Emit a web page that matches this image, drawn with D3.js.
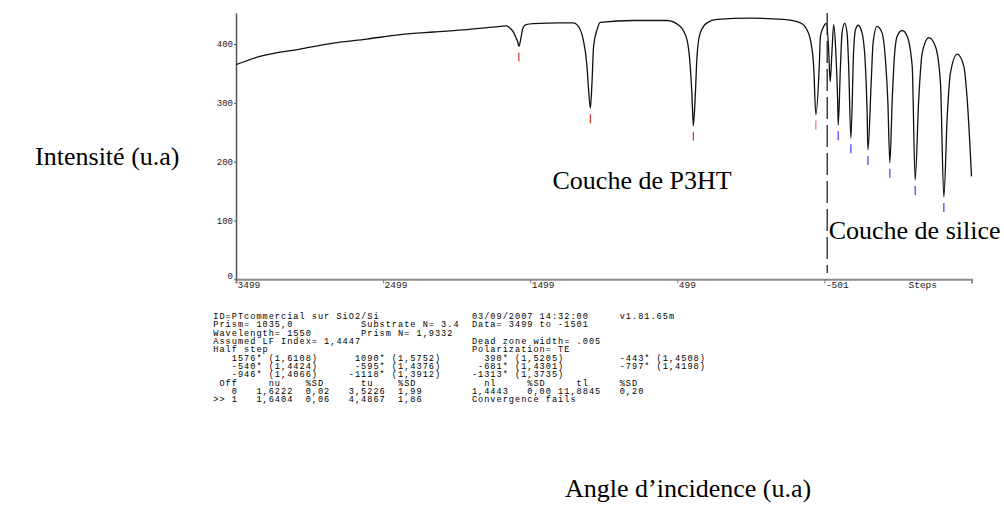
<!DOCTYPE html>
<html><head><meta charset="utf-8">
<script src="https://cdn.jsdelivr.net/npm/d3@7"></script>
<style>body{margin:0;background:#fff}svg{display:block}</style>
</head><body>
<svg id="c" width="1004" height="524"></svg>
<script>
// ---- data ----
const steps = [3499,3336,3064,2837,2610,2383,2157,1930,1703,1662,1635,1615,1594,1584,1576,1560,1549,1526,1479,1295,1206,1181,1138,1113,1102,1090,1079,1068,1045,1023,796,569,479,433,411,399,390,377,365,343,297,229,2,-224,-338,-383,-406,-428,-443,-466,-474,-496,-515,-530,-540,-553,-564,-578,-591,-595,-610,-621,-639,-655,-666,-681,-700,-712,-730,-757,-780,-791,-797,-819,-832,-859,-893,-916,-932,-946,-962,-977,-995,-1030,-1064,-1098,-1118,-1142,-1166,-1211,-1256,-1290,-1313,-1336,-1358,-1404,-1449,-1472,-1501];
const intensity = [365,379,391.5,401.7,408.5,416,420.5,424.5,430,431,427,421,410,404,396,413,427,433,434.6,436,436,433,407,362,322,291,334,396,424,437,440,440,430,407,362,311,261,311,379,419,436,442,444,442,436,424,407,362,280,362,413,430,435,390,336,390,433,390,305,262,362,419,435,419,362,240,390,424,432,419,362,288,220,334,402,430,419,373,305,198,305,379,413,423,413,362,169,305,385,411,396,334,140,277,351,383,362,305,175];
const modeSteps = [1576,1090,390,-443,-595,-681,-797,-946,-1118,-1313];
const modeDepth = [396,291,261,280,262,240,220,198,169,140];
const modeLayer = ["P3HT","P3HT","P3HT","P3HT","silice","silice","silice","silice","silice","silice"];
const yTicks = [0,100,200,300,400];
const xTicks = [3499,2499,1499,499,-501];
const xTickLabels = ["3499","2499","1499","499","-501"];
const dividerStep = -520;
const infoLines = [
"ID=PTcommercial sur SiO2/Si               03/09/2007 14:32:00     v1.81.65m",
"Prism= 1035,0           Substrate N= 3.4  Data= 3499 to -1501",
"Wavelength= 1550        Prism N= 1,9332",
"Assumed LF Index= 1,4447                  Dead zone width= .005",
"Half step                                 Polarization= TE",
"   1576* (1,6108)      1090* (1,5752)       390* (1,5205)         -443* (1,4508)",
"   -540* (1,4424)      -595* (1,4376)      -681* (1,4301)         -797* (1,4198)",
"   -946* (1,4066)     -1118* (1,3912)     -1313* (1,3735)",
" Off     nu    %SD      tu    %SD           nl     %SD     tl     %SD",
"   0   1,6222  0,02   3,5226  1,99        1,4443   0,00 11,8845   0,20",
">> 1   1,6404  0,06   4,4867  1,86        Convergence fails"
];

// ---- drawing ----
const svg = d3.select("#c");
const x = d3.scaleLinear().domain([3499,-1501]).range([236,971.5]);
const y = d3.scaleLinear().domain([0,453.3]).range([279.3,12.7]);
const mono = "'Liberation Mono', 'DejaVu Sans Mono', monospace";
const serif = "'Liberation Serif', 'DejaVu Serif', serif";

// x axis
const xa = svg.append("g").attr("transform",`translate(0,${y(0)})`)
  .call(d3.axisBottom(x).tickValues(xTicks).tickFormat((d,i)=>xTickLabels[i]).tickSize(4).tickSizeOuter(4));
xa.select(".domain").attr("stroke","#8a8a8a").attr("stroke-width",2);
xa.selectAll(".tick line").attr("stroke","#777").attr("stroke-width",1);
xa.selectAll(".tick text").attr("text-anchor","start").attr("x",1).attr("y",8.5).attr("dy",0)
  .attr("font-family",mono).attr("font-size",9.5).attr("fill","#222");
svg.append("text").attr("x",x(-1501)-63).attr("y",y(0)+8.5).text("Steps")
  .attr("font-family",mono).attr("font-size",9.5).attr("fill","#222");

// y axis
const ya = svg.append("g").attr("transform",`translate(${x(3499)},0)`)
  .call(d3.axisLeft(y).tickValues(yTicks).tickSize(2).tickSizeOuter(0).tickPadding(1));
ya.select(".domain").attr("stroke","#555").attr("stroke-width",1.5);
ya.selectAll(".tick line").attr("stroke","#555");
ya.selectAll(".tick text").attr("font-family",mono).attr("font-size",9).attr("fill","#222").attr("dy","0.3em");
ya.selectAll(".tick").filter(d=>d===0).select("text").attr("dy","-0.05em");

// curve
const pts = steps.map((s,i)=>[s,intensity[i]]);
svg.append("path").datum(pts)
  .attr("d", d3.line().x(d=>x(d[0])).y(d=>y(d[1])).curve(d3.curveMonotoneX))
  .attr("fill","none").attr("stroke","#111").attr("stroke-width",1.3);

// mode markers
svg.append("g").selectAll("line").data(modeSteps).join("line")
  .attr("x1",d=>x(d)).attr("x2",d=>x(d))
  .attr("y1",(d,i)=>y(modeDepth[i])+6).attr("y2",(d,i)=>y(modeDepth[i])+15)
  .attr("stroke",(d,i)=>modeLayer[i]==="P3HT" ? (i===3 ? "#f07070" : "#e63333") : "#3b3bff").attr("stroke-width",1.2);

// divider
svg.append("line").attr("x1",x(dividerStep)).attr("x2",x(dividerStep))
  .attr("y1",13).attr("y2",273).attr("stroke","#111").attr("stroke-width",1.2)
  .attr("stroke-dasharray","22,6");

// labels
svg.append("text").attr("x",179.5).attr("y",165).attr("text-anchor","end")
  .attr("font-family",serif).attr("font-size",26).text("Intensité (u.a)");
svg.append("text").attr("x",552.5).attr("y",189.3)
  .attr("font-family",serif).attr("font-size",26).text("Couche de P3HT");
svg.append("text").attr("x",x(dividerStep)+1.5).attr("y",239)
  .attr("font-family",serif).attr("font-size",26).text("Couche de silice");
svg.append("text").attr("x",565).attr("y",497)
  .attr("font-family",serif).attr("font-size",26).text("Angle d\u2019incidence (u.a)");

// info block
svg.append("g").selectAll("text").data(infoLines).join("text")
  .attr("x",213.3).attr("y",(d,i)=>319+i*8.33)
  .attr("xml:space","preserve").style("white-space","pre")
  .attr("font-family",mono).attr("font-size",8.6).attr("letter-spacing",1.0).attr("fill","#000")
  .text(d=>d);
</script>
</body></html>
